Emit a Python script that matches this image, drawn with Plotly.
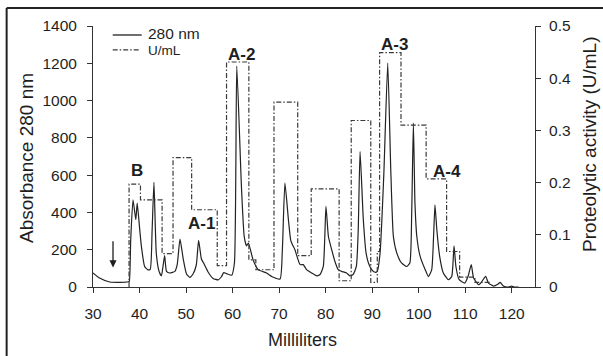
import plotly.graph_objects as go

# ---------------- data ----------------
# Absorbance at 280 nm (left axis) vs elution volume (mL)
abs_ml = [30.0, 31.4, 33.6, 35.8, 37.6, 37.8, 38.1, 38.6, 39.2, 39.5, 40.0, 40.4, 41.1, 41.8, 42.3,
          42.7, 43.1, 43.6, 44.2, 44.7, 45.1, 45.4, 45.8, 46.5, 47.6, 48.1, 48.7, 49.4, 50.1, 50.8,
          51.5, 52.2, 52.7, 53.3, 53.8, 54.7, 55.8, 56.9, 57.6, 58.1, 58.7, 59.8, 60.4, 60.9, 61.9,
          62.5, 63.0, 63.4, 64.4, 65.5, 67.3, 68.5, 70.2, 70.7, 71.25, 72.0, 72.5, 72.9, 73.4, 74.5,
          75.2, 75.9, 77.0, 78.1, 78.8, 79.5, 80.07, 80.6, 81.3, 82.0, 82.7, 83.4, 84.5, 85.2, 85.9,
          86.6, 87.0, 87.4, 88.1, 88.7, 89.2, 89.9, 90.6, 91.1, 91.7, 92.5, 93.35, 94.0, 94.56, 95.3,
          96.3, 97.4, 98.1, 98.5, 98.86, 99.2, 99.6, 100.3, 101.4, 102.1, 102.8, 103.2, 103.5, 103.9,
          104.5, 105.3, 106.4, 107.1, 107.6, 108.0, 108.7, 109.9, 110.6, 111.3, 111.8, 112.9, 113.6,
          114.4, 115.0, 116.1, 117.0, 117.5, 118.2, 119.3, 120.0, 120.5, 121.5]
abs_280 = [75, 48, 27, 25, 28, 30, 250, 468, 361, 450, 320, 218, 110, 92, 95,
           300, 561, 182, 84, 60, 120, 168, 84, 75, 84, 120, 257, 150, 70, 52,
           70, 118, 250, 150, 127, 82, 46, 38, 55, 77, 72, 63, 130, 1185, 540,
           271, 220, 236, 146, 93, 75, 55, 43, 200, 558, 361, 250, 225, 200, 120,
           120, 93, 75, 60, 67, 110, 432, 271, 200, 137, 93, 84, 75, 60, 67,
           110, 300, 727, 361, 182, 129, 93, 79, 84, 182, 600, 1201, 629, 271, 182,
           129, 110, 129, 400, 879, 450, 271, 166, 93, 56, 93, 271, 441, 307,
           166, 75, 39, 56, 221, 110, 39, 21, 56, 120, 48, 12, 30,
           57, 21, 5, 15, 25, 5, 0, 5, 0, 0]

# Proteolytic activity (right axis), step boundaries and level held from each boundary
act_ml = [37.75, 37.75, 40.2, 44.85, 47.2, 51.2, 56.7, 58.7, 63.5, 65.0, 68.9, 74.0, 76.9,
          82.9, 85.5, 89.7, 91.1, 91.6, 96.2, 101.6, 106.0, 108.8, 112.1, 115.4]
act_u = [0.0, 0.197, 0.167, 0.064, 0.248, 0.148, 0.041, 0.431, 0.052, 0.033, 0.354, 0.060, 0.188,
         0.012, 0.319, 0.009, 0.068, 0.449, 0.310, 0.207, 0.068, 0.019, 0.009, 0.009]

# Fraction labels (x in mL, y in absorbance units)
frac_names = ["B", "A-1", "A-2", "A-3", "A-4"]
frac_x = [39.5, 53.3, 61.9, 94.8, 106.0]
frac_y = [625, 343, 1246, 1299, 617]

x_ticks = [30, 40, 50, 60, 70, 80, 90, 100, 110, 120]

# ---------------- figure ----------------
FONT = "Liberation Sans, Arial, sans-serif"
INK = "#1e1e1e"

# plot area in pixels (for placing legend/titles in paper coords)
L, R, T, B = 93.3, 535.0, 26.0, 287.3
def px(xp):
    return (xp - L) / (R - L)
def py(yp):
    return (B - yp) / (B - T)

fig = go.Figure()
fig.add_trace(go.Scatter(x=abs_ml, y=abs_280, mode="lines", name="280 nm",
                         line=dict(color="#222222", width=1.2, shape="spline", smoothing=0.5),
                         showlegend=False))
fig.add_trace(go.Scatter(x=act_ml, y=act_u, mode="lines", name="U/mL", yaxis="y2",
                         line=dict(color="#3a3a3a", width=1.2, dash="5px,2px,1.5px,2px", shape="hv"),
                         showlegend=False))

annotations = []
for n, x, y in zip(frac_names, frac_x, frac_y):
    annotations.append(dict(x=x, y=y, xref="x", yref="y", text="<b>%s</b>" % n, showarrow=False,
                            xanchor="center", yanchor="middle",
                            font=dict(family=FONT, size=17, color=INK)))

# arrow (sample injection)
annotations.append(dict(x=34.3, y=105, ax=34.3, ay=254, xref="x", yref="y", axref="x", ayref="y",
                        text="", showarrow=True, arrowhead=2, arrowsize=1.1, arrowwidth=1.3,
                        arrowcolor=INK))

# axis titles
annotations += [
    dict(x=px(27.5), y=py(158), xref="paper", yref="paper", text="Absorbance 280 nm",
         xanchor="center", yanchor="middle",
         textangle=-90, showarrow=False, font=dict(family=FONT, size=19, color=INK)),
    dict(x=px(590), y=py(145), xref="paper", yref="paper", text="Proteolytic activity (U/mL)",
         xanchor="center", yanchor="middle",
         textangle=-90, showarrow=False, font=dict(family=FONT, size=19, color=INK)),
    dict(x=px(303), y=py(340), xref="paper", yref="paper", text="Milliliters",
         xanchor="center", yanchor="middle",
         showarrow=False, font=dict(family=FONT, size=18, color=INK)),
]

# legend (manual)
annotations += [
    dict(x=px(146), y=py(34), xref="paper", yref="paper", text="280 nm", xanchor="left",
         yanchor="middle", showarrow=False, font=dict(family=FONT, size=15.5, color=INK)),
    dict(x=px(146), y=py(51), xref="paper", yref="paper", text="U/mL", xanchor="left",
         yanchor="middle", showarrow=False, font=dict(family=FONT, size=13.5, color=INK)),
]

shapes = [
    dict(type="line", xref="paper", yref="paper", x0=px(113), x1=px(142), y0=py(35), y1=py(35),
         line=dict(color="#222222", width=1.3)),
    dict(type="line", xref="paper", yref="paper", x0=px(113), x1=px(141), y0=py(50), y1=py(50),
         line=dict(color="#3a3a3a", width=1.2, dash="5px,2px,1.5px,2px")),
    # outer frame of the figure (left and top edges visible in the crop)
    dict(type="line", xref="paper", yref="paper", x0=px(7), x1=px(7), y0=py(360), y1=py(8),
         line=dict(color="#222222", width=2)),
    dict(type="line", xref="paper", yref="paper", x0=px(7), x1=px(610), y0=py(8), y1=py(8),
         line=dict(color="#222222", width=2)),
]

axis_common = dict(showgrid=False, zeroline=False, showline=True, linecolor="#333333", linewidth=1,
                   ticks="outside", ticklen=5, tickwidth=1, tickcolor="#333333",
                   tickfont=dict(family=FONT, size=15.5, color=INK))

fig.update_layout(
    width=603, height=356,
    margin=dict(l=93, r=68, t=26, b=69, autoexpand=False),
    paper_bgcolor="white", plot_bgcolor="white",
    xaxis=dict(range=[30, 125], tickvals=x_ticks, ticklabelstandoff=7, **axis_common),
    yaxis=dict(range=[0, 1400], dtick=200, ticklabelstandoff=7, **axis_common),
    yaxis2=dict(range=[0, 0.5], dtick=0.1, overlaying="y", side="right", ticklabelstandoff=5,
                **axis_common),
    annotations=annotations,
    shapes=shapes,
    showlegend=False,
)

fig.write_html("out.html", config={"displayModeBar": False},
               post_script="document.body.style.margin='0';document.body.style.padding='0';")
